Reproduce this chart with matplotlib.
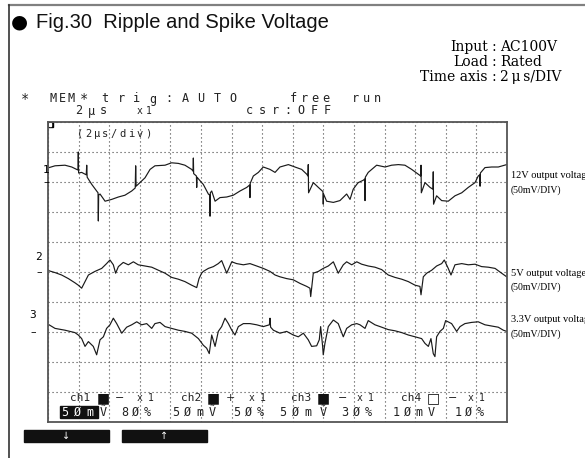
import numpy as np
import matplotlib
matplotlib.use('Agg')
import matplotlib.pyplot as plt
from matplotlib.patches import Rectangle
from matplotlib.lines import Line2D

# time axis in us (2us/div, 15 div), voltages in mV (50mV/div)
ch1_t = [0.07, 0.46, 1.11, 1.55, 1.87, 1.96, 1.98, 2.00, 2.20, 2.50, 2.53, 2.56, 2.86, 3.18, 3.27, 3.29, 3.31, 3.40,
         3.73, 4.16, 4.60, 5.03, 5.47, 5.70, 5.73, 5.76, 6.01, 6.34, 6.67, 6.99, 7.65, 8.08, 8.52, 8.95, 9.39, 9.48,
         9.50, 9.52, 9.70, 9.72, 9.74, 10.04, 10.15, 10.48, 10.57, 10.59, 10.61, 10.70, 10.92, 11.24, 11.68, 12.11,
         12.55, 12.99, 13.18, 13.20, 13.22, 13.42, 13.75, 14.07, 14.51, 14.84, 15.16, 15.71, 16.14, 16.58, 16.91,
         16.99, 17.01, 17.03, 17.34, 17.67, 17.97, 17.99, 18.01, 18.21, 18.65, 19.08, 19.52, 19.74, 19.95, 20.18,
         20.28, 20.61, 20.70, 20.72, 20.74, 20.93, 21.48, 22.03, 22.46, 22.90, 23.33, 23.77, 24.20, 24.36, 24.38,
         24.40, 24.64, 24.97, 25.16, 25.18, 25.20, 25.40, 25.73, 26.16, 26.60, 27.04, 27.47, 27.91, 28.12, 28.22,
         28.24, 28.26, 28.56, 29.00, 29.43, 29.98]
ch1_mv = [24, 27, 28, 25, 21, 20, 50, 15, 16, 12, 28, 8, -4, -15, -18, -65, -22, -20,
          -32, -29, -25, -22, -15, -10, 27, -7, -1, 7, 21, 27, 28, 32, 31, 28, 21, 18,
          40, 14, 10, -9, 8, -1, -4, -20, -22, -57, -18, -15, -32, -26, -25, -22,
          -15, -9, -5, -26, -2, 10, 16, 25, 21, 16, 25, 29, 25, 21, 13,
          10, 29, -18, -1, -9, -16, -37, -20, -32, -34, -31, -20, -29, -12, -4,
          -1, 3, 5, -31, 8, 16, 28, 25, 28, 29, 28, 21, 13, 10, 28,
          -18, -1, -9, -12, 17, -37, -23, -31, -32, -23, -18, -9, -1, 10, 12,
          -7, 15, 24, 25, 25, 29]

ch2_t = [0.07, 0.46, 0.89, 1.33, 1.76, 1.98, 2.20, 2.42, 2.64, 3.07, 3.51, 3.83, 4.05, 4.27, 4.42, 4.60, 4.92, 5.25,
         5.58, 5.90, 6.34, 6.78, 7.21, 7.65, 8.08, 8.52, 8.95, 9.39, 9.72, 9.87, 10.04, 10.15, 10.48, 10.81, 11.13,
         11.35, 11.68, 12.01, 12.33, 12.77, 13.20, 13.64, 14.07, 14.51, 14.84, 15.16, 15.60, 16.03, 16.47, 16.91,
         17.12, 17.17, 17.34, 17.67, 17.99, 18.32, 18.65, 18.97, 19.30, 19.52, 19.85, 20.18, 20.50, 20.93, 21.37,
         21.81, 22.24, 22.68, 23.12, 23.55, 23.99, 24.31, 24.38, 24.53, 24.75, 25.08, 25.40, 25.73, 25.90, 26.16,
         26.34, 26.60, 27.04, 27.47, 27.91, 28.34, 28.78, 29.22, 29.65, 29.98]
ch2_mv = [2, -1, -5, -11, -18, -22, -27, -16, -5, 1, 6, 14, 20, 12, -2, 9, 16, 12,
          17, 12, 10, 8, 3, -2, -9, -12, -16, -22, -26, -11, -2, 1, 6, 9, 14,
          19, -2, 17, 14, 12, 14, 10, 6, 1, -5, -8, -11, -13, -19, -24,
          -27, -41, -2, 1, 6, 10, 17, -2, 12, 17, 12, 17, 13, 10, 8,
          4, -5, -9, -12, -16, -22, -24, -38, -8, -2, 3, 10, 14, 20, 6,
          -5, 12, 14, 12, 13, 9, 8, 6, -2, -8]

ch3_t = [0.07, 0.46, 1.11, 1.76, 1.98, 2.20, 2.42, 2.64, 2.96, 3.18, 3.40, 3.62, 3.83, 4.05, 4.27, 4.49, 4.82, 5.14,
         5.47, 5.80, 6.12, 6.45, 6.78, 6.99, 7.32, 7.65, 8.08, 8.52, 8.95, 9.39, 9.83, 10.15, 10.37, 10.54, 10.70,
         10.92, 11.13, 11.35, 11.57, 11.79, 12.01, 12.22, 12.44, 12.77, 13.20, 13.64, 14.07, 14.47, 14.51, 14.55,
         14.73, 15.16, 15.60, 16.03, 16.36, 16.69, 17.01, 17.23, 17.56, 17.73, 17.82, 17.95, 17.99, 18.10, 18.32,
         18.65, 18.97, 19.30, 19.52, 19.85, 20.18, 20.39, 20.72, 20.93, 21.37, 21.81, 22.24, 22.68, 23.12, 23.55,
         23.99, 24.42, 24.64, 24.86, 25.03, 25.18, 25.29, 25.40, 25.62, 25.84, 25.99, 26.38, 26.71, 26.93, 27.25,
         27.69, 28.12, 28.56, 28.99, 29.43, 29.76, 29.98]
ch3_mv = [12, 6, 3, -1, -5, -11, -24, -16, -24, -38, -13, -8, 6, 12, 23, 14, -2, 8,
          12, 17, 12, 14, 6, 14, 16, 9, 6, 3, 1, -2, -11, -22, -27, -36, -5,
          -24, 1, 9, 23, 14, 3, -5, 9, 14, 14, 12, 9, 12, 23, 8,
          3, -2, 1, -5, -8, -2, -13, -24, -23, -13, 9, -24, -38, -19, 9,
          20, 14, -8, 6, 12, 14, 12, 6, 19, 12, 8, 4, 2, -1, -5,
          -8, -11, -19, -24, -11, -36, -41, -8, 1, 6, 19, 14, 1, 9, 14,
          16, 17, 12, 10, 8, 3, 1]

# screen position of each channel's ground marker (divisions from bottom)
ch_base = [8, 5, 3]
mv_per_div = 50

W, H = 585, 458
fig = plt.figure(figsize=(W / 100, H / 100), dpi=100)

def px(x, y):
    return x / W, 1 - y / H

def lcd(x0, y, s, step, size=8.5, color='#222'):
    # scope-screen text, one character per cell
    for i, ch in enumerate(s):
        if ch != ' ':
            fig.text(*px(x0 + i * step, y), ch, ha='center', va='center', fontsize=size,
                     family=['DejaVu Sans Mono', 'DejaVu Sans'], color=color)

# outer frame
fig.add_artist(Line2D([9 / W, 1], [1 - 5 / H, 1 - 5 / H], color='#808080', lw=1.6))
fig.add_artist(Line2D([9 / W, 9 / W], [1 - 5 / H, 0], color='#333', lw=1.2))

# title
fig.text(*px(19, 22), '\u25cf', ha='center', va='center', fontsize=14, family='DejaVu Sans', color='black')
fig.text(*px(36, 22), 'Fig.30  Ripple and Spike Voltage', ha='left', va='center', fontsize=14.5,
         family='Liberation Sans', color='#111')

# measurement conditions
for y, a, b in [(47, 'Input', 'AC100V'), (62, 'Load', 'Rated'), (77, 'Time axis', '2\u2009\u03bc\u2009s/DIV')]:
    fig.text(*px(488, y), a, ha='right', va='center', fontsize=10, family='DejaVu Serif')
    fig.text(*px(494, y), ':', ha='center', va='center', fontsize=10, family='DejaVu Serif')
    fig.text(*px(500, y), b, ha='left', va='center', fontsize=10, family='DejaVu Serif')

# scope header
lcd(25, 99, '*', 10, size=10)
lcd(53, 99, 'MEM', 9)
lcd(84, 99, '*', 10, size=10)
lcd(105, 99, 'trig:AUTO', 16)
lcd(293, 99, 'free', 11)
lcd(355, 99, 'run', 11)
lcd(79, 111, '2\u03bcs', 12)
lcd(140, 111, 'x1', 9, size=7)
lcd(249, 111, 'csr:OFF', 13)

# waveform screen
ax = fig.add_axes([48 / W, 1 - 422 / H, 459 / W, 300 / H])
ax.set_xlim(0, 30)
ax.set_ylim(0, 10)
ax.set_xticks(np.arange(0, 30.1, 2))
ax.set_yticks(np.arange(0, 10.1, 1))
ax.tick_params(length=0, labelbottom=False, labelleft=False)
ax.grid(True, color='#444', lw=0.8, linestyle=(0, (1, 2.6)))
for s in ax.spines.values():
    s.set_color('#555')
    s.set_linewidth(1.3)

for t, mv, base in [(ch1_t, ch1_mv, ch_base[0]), (ch2_t, ch2_mv, ch_base[1]), (ch3_t, ch3_mv, ch_base[2])]:
    ax.plot(t, base + np.array(mv) / mv_per_div, color='#1a1a1a', lw=0.85)

# corner marker
ax.add_patch(Rectangle((0, 9.82), 0.34, 0.18, color='black', clip_on=False))
ax.add_patch(Rectangle((0.08, 9.88), 0.14, 0.08, color='white', clip_on=False))
lcd(80, 134, '(2\u03bcs/div)', 8.5, size=7.5)

# channel ground markers
for num, base, xoff, yup in [('1', 8, 46, 170), ('2', 5, 39, 257), ('3', 3, 33, 315)]:
    fig.text(*px(xoff, yup), num, ha='center', va='center', fontsize=8, family='DejaVu Sans Mono')
    fig.text(*px(xoff, 422 - base * 30), '\u2013', ha='center', va='center', fontsize=8, family='DejaVu Sans')

# channel settings at the bottom of the screen
row1 = [(80.5, 'ch1', 103, '\u25a0', 120, '\u2212', 140),
        (191, 'ch2', 213, '\u25a0', 230, '+', 252),
        (301, 'ch3', 323, '\u25a0', 343, '\u2212', 360),
        (411, 'ch4', 433, '\u25a1', 453, '\u2212', 471)]
for xc, name, xs, sq, xsg, sg, xx in row1:
    fig.text(*px(xc, 398), name, ha='center', va='center', fontsize=8, family='DejaVu Sans Mono', color='#222')
    fig.text(*px(xs, 398), sq, ha='center', va='center', fontsize=10, family='DejaVu Sans', color='#111')
    fig.text(*px(xsg, 398), sg, ha='center', va='center', fontsize=8, family='DejaVu Sans', color='#222')
    lcd(xx, 398, 'x1', 11, size=7)

fig.add_artist(Rectangle(px(60, 418), 38 / W, 12 / H, color='#111', transform=fig.transFigure))
lcd(65, 412, '5\u00d8m', 12.5, color='white')
lcd(103, 412, '\u1e7c', 10)
lcd(125, 412, '8\u00d8%', 11)
lcd(176, 412, '5\u00d8m\u1e7c', 12)
lcd(237, 412, '5\u00d8%', 11.5)
lcd(283, 412, '5\u00d8m', 12.5)
lcd(323, 412, '\u1e7c', 10)
lcd(345, 412, '3\u00d8%', 11.5)
lcd(396, 412, '1\u00d8mV', 11.7)
lcd(458, 412, '1\u00d8%', 11)

# soft keys under the screen
for x0, arrow in [(24, '\u2193'), (122, '\u2191')]:
    fig.add_artist(Rectangle(px(x0, 442), 85 / W, 12 / H, color='#111', transform=fig.transFigure))
    fig.text(*px(x0 + 42, 436), arrow, ha='center', va='center', fontsize=7, color='white')

# channel descriptions (cut by the right edge, as in the source page)
for y, lab in [(176, '12V output voltage'), (273, '5V output voltage'), (320, '3.3V output voltage')]:
    fig.text(*px(511, y), lab, ha='left', va='center', fontsize=7.5, family='Liberation Serif')
    fig.text(*px(511, y + 14), '(50mV/DIV)', ha='left', va='center', fontsize=7, family='Liberation Serif')

fig.savefig('out.png', dpi=100)
